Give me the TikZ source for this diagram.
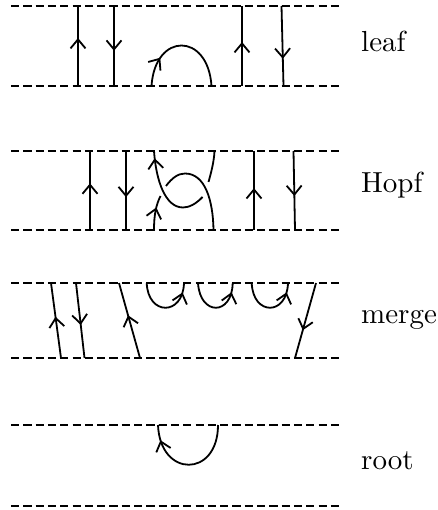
\documentclass[tikz,border=0pt]{standalone}
\usepackage{fontspec}
\newfontfamily\labfont{lmroman10-regular}[Extension=.otf]
\usetikzlibrary{arrows.meta,decorations.markings}
\tikzset{
  dashline/.style={line width=1.8pt,dash pattern=on 8.2pt off 4.1pt},
  strand/.style={line width=1.8pt,line cap=butt},
  midarrow/.style={postaction={decorate,decoration={markings,mark=at position #1 with {\arrow[line width=1.8pt]{Straight Barb[length=9pt,width=15pt]}}}}},
  lab/.style={anchor=base west,inner sep=0pt,font=\labfont\fontsize{29}{32}\selectfont}
}
\begin{document}
\begin{tikzpicture}[x=1pt,y=-1pt]
\useasboundingbox (0,0) rectangle (437,510);
% horizontal rails
\foreach \n/\y in {a/6,b/86,c/151,d/230,e/283,f/358,g/425,h/506}{
  \coordinate (l\n) at (11,\y);
  \coordinate (r\n) at (343,\y);
  \draw[dashline] (l\n) -- (r\n);
}
% leaf
\coordinate (a1) at (78,6); \coordinate (a2) at (78,86);
\coordinate (a3) at (114,6); \coordinate (a4) at (114,86);
\coordinate (a5) at (151.5,86); \coordinate (a6) at (211.5,86);
\coordinate (a7) at (242,6); \coordinate (a8) at (242,86);
\coordinate (a9) at (281.5,6); \coordinate (a10) at (283.5,86);
\draw[strand,midarrow=0.60] (a2) -- (a1);
\draw[strand,midarrow=0.56] (a3) -- (a4);
\draw[strand,midarrow=0.27] (a5) .. controls (155,32) and (208,32) .. (a6);
\draw[strand,midarrow=0.55] (a8) -- (a7);
\draw[strand,midarrow=0.66] (a9) -- (a10);
% Hopf
\coordinate (b1) at (90,151); \coordinate (b2) at (90,230);
\coordinate (b3) at (126,151); \coordinate (b4) at (126,230);
\coordinate (b5) at (154,151); \coordinate (b6) at (202.5,197);
\coordinate (b7) at (154,230); \coordinate (b8) at (160.5,196);
\coordinate (b9) at (166,186); \coordinate (b10) at (213.5,230);
\coordinate (b11) at (214.5,151); \coordinate (b12) at (208.5,182);
\coordinate (b13) at (254,151); \coordinate (b14) at (254,230);
\coordinate (b15) at (293.5,151); \coordinate (b16) at (295,230);
\draw[strand,midarrow=0.59] (b2) -- (b1);
\draw[strand,midarrow=0.585] (b3) -- (b4);
\draw[strand,midarrow=0.92] (b6) .. controls (196,204) and (189,207.5) .. (183,207.5) .. controls (165,207.5) and (156,180) .. (b5);
\draw[strand,midarrow=0.65] (b7) .. controls (154,215) and (156,205) .. (b8);
\draw[strand] (b9) .. controls (172,178) and (178,173.5) .. (185,173.5) .. controls (205,173.5) and (213,200) .. (b10);
\draw[strand] (b11) .. controls (214,162) and (211,173) .. (b12);
\draw[strand,midarrow=0.53] (b14) -- (b13);
\draw[strand,midarrow=0.57] (b15) -- (b16);
% merge
\coordinate (c1) at (51,283); \coordinate (c2) at (61,358);
\coordinate (c3) at (76,283); \coordinate (c4) at (84.5,358);
\coordinate (c5) at (119,283); \coordinate (c6) at (140,358);
\coordinate (c7) at (146.7,283); \coordinate (c8) at (184,283);
\coordinate (c9) at (198,283); \coordinate (c10) at (232.7,283);
\coordinate (c11) at (251.7,283); \coordinate (c12) at (288,283);
\coordinate (c13) at (316,283); \coordinate (c14) at (295,358);
\draw[strand,midarrow=0.55] (c2) -- (c1);
\draw[strand,midarrow=0.56] (c3) -- (c4);
\draw[strand,midarrow=0.57] (c6) -- (c5);
\draw[strand,midarrow=0.86] (c7) .. controls (148,316) and (183,316) .. (c8);
\draw[strand,midarrow=0.86] (c9) .. controls (200,316) and (232,316) .. (c10);
\draw[strand,midarrow=0.86] (c11) .. controls (253,316) and (287,316) .. (c12);
\draw[strand,midarrow=0.63] (c13) -- (c14);
% root
\coordinate (d1) at (218,425); \coordinate (d2) at (158,425);
\draw[strand,midarrow=0.86] (d1) .. controls (218,478) and (160,478) .. (d2);
% labels
\node[lab] (tleaf) at (361,52) {leaf};
\node[lab] (thopf) at (361,193) {Hopf};
\node[lab] (tmerge) at (361,323) {merge};
\node[lab] (troot) at (361,469) {root};
\end{tikzpicture}
\end{document}
